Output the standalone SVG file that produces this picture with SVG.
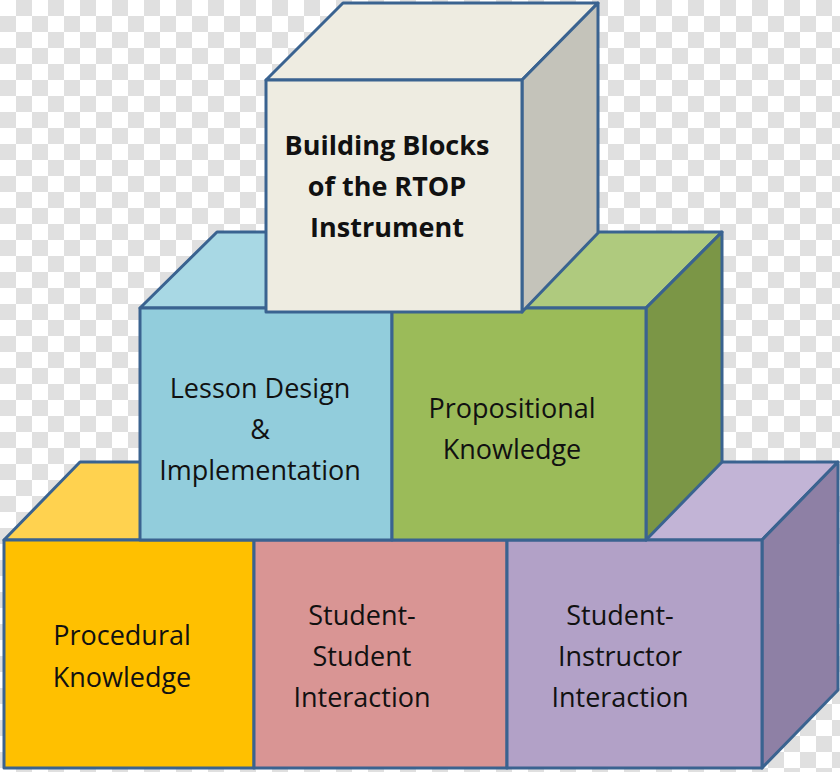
<svg xmlns="http://www.w3.org/2000/svg" width="840" height="772" viewBox="0 0 840 772">
<defs>
<pattern id="chk" width="32" height="32" patternUnits="userSpaceOnUse">
<rect width="32" height="32" fill="#ffffff"/>
<rect x="16" width="16" height="16" fill="#e0e0e0"/>
<rect y="16" width="16" height="16" fill="#e0e0e0"/>
</pattern>
</defs>
<style>
.s{stroke:#3A6390;stroke-width:3;stroke-linejoin:round}
.t{font-family:"Open Sans","Noto Sans",sans-serif;font-size:27px;fill:#111;text-anchor:middle}
.b{font-weight:bold;font-size:27px}
</style>
<rect width="840" height="772" fill="url(#chk)"/>
<g id="procedural">
<polygon class="s" fill="#FFD24F" points="4,540 80,462 200,462 140,540"/>
<rect class="s" fill="#FFC000" x="4" y="540" width="250" height="228"/>
<text class="t" x="122" y="645">Procedural</text><text class="t" x="122" y="687">Knowledge</text>
</g>
<g id="student-student">
<rect class="s" fill="#D99594" x="254" y="540" width="253" height="228"/>
<text class="t" x="362" y="625">Student-</text><text class="t" x="362" y="666">Student</text><text class="t" x="362" y="707">Interaction</text>
</g>
<g id="student-instructor">
<polygon class="s" fill="#C2B4D6" points="582,462 838,462 762,540 507,540"/>
<polygon class="s" fill="#8E80A5" points="762,540 838,462 838,690 762,768"/>
<rect class="s" fill="#B2A1C7" x="507" y="540" width="255" height="228"/>
<text class="t" x="620" y="625">Student-</text><text class="t" x="620" y="666">Instructor</text><text class="t" x="620" y="707">Interaction</text>
</g>
<g id="lesson-design">
<polygon class="s" fill="#A8D8E4" points="140,308 217,232 470,232 392,308"/>
<rect class="s" fill="#92CDDC" x="140" y="308" width="252" height="232"/>
<text class="t" x="260" y="398">Lesson Design</text><text class="t" x="260" y="439">&amp;</text><text class="t" x="260" y="480">Implementation</text>
</g>
<g id="propositional">
<polygon class="s" fill="#AFCA7E" points="392,308 470,232 722,232 646,308"/>
<polygon class="s" fill="#7B9646" points="646,308 722,232 722,462 646,540"/>
<rect class="s" fill="#9BBB59" x="392" y="308" width="254" height="232"/>
<text class="t" x="512" y="418">Propositional</text><text class="t" x="512" y="459">Knowledge</text>
</g>
<g id="rtop">
<polygon class="s" fill="#EEECE1" points="266,80 343,3 598,3 522,80"/>
<polygon class="s" fill="#C4C3BA" points="522,80 598,3 598,233 522,312"/>
<rect class="s" fill="#EEECE1" x="266" y="80" width="256" height="232"/>
<text class="t b" x="387" y="155">Building Blocks</text><text class="t b" x="387" y="196">of the RTOP</text><text class="t b" x="387" y="237">Instrument</text>
</g>
</svg>
